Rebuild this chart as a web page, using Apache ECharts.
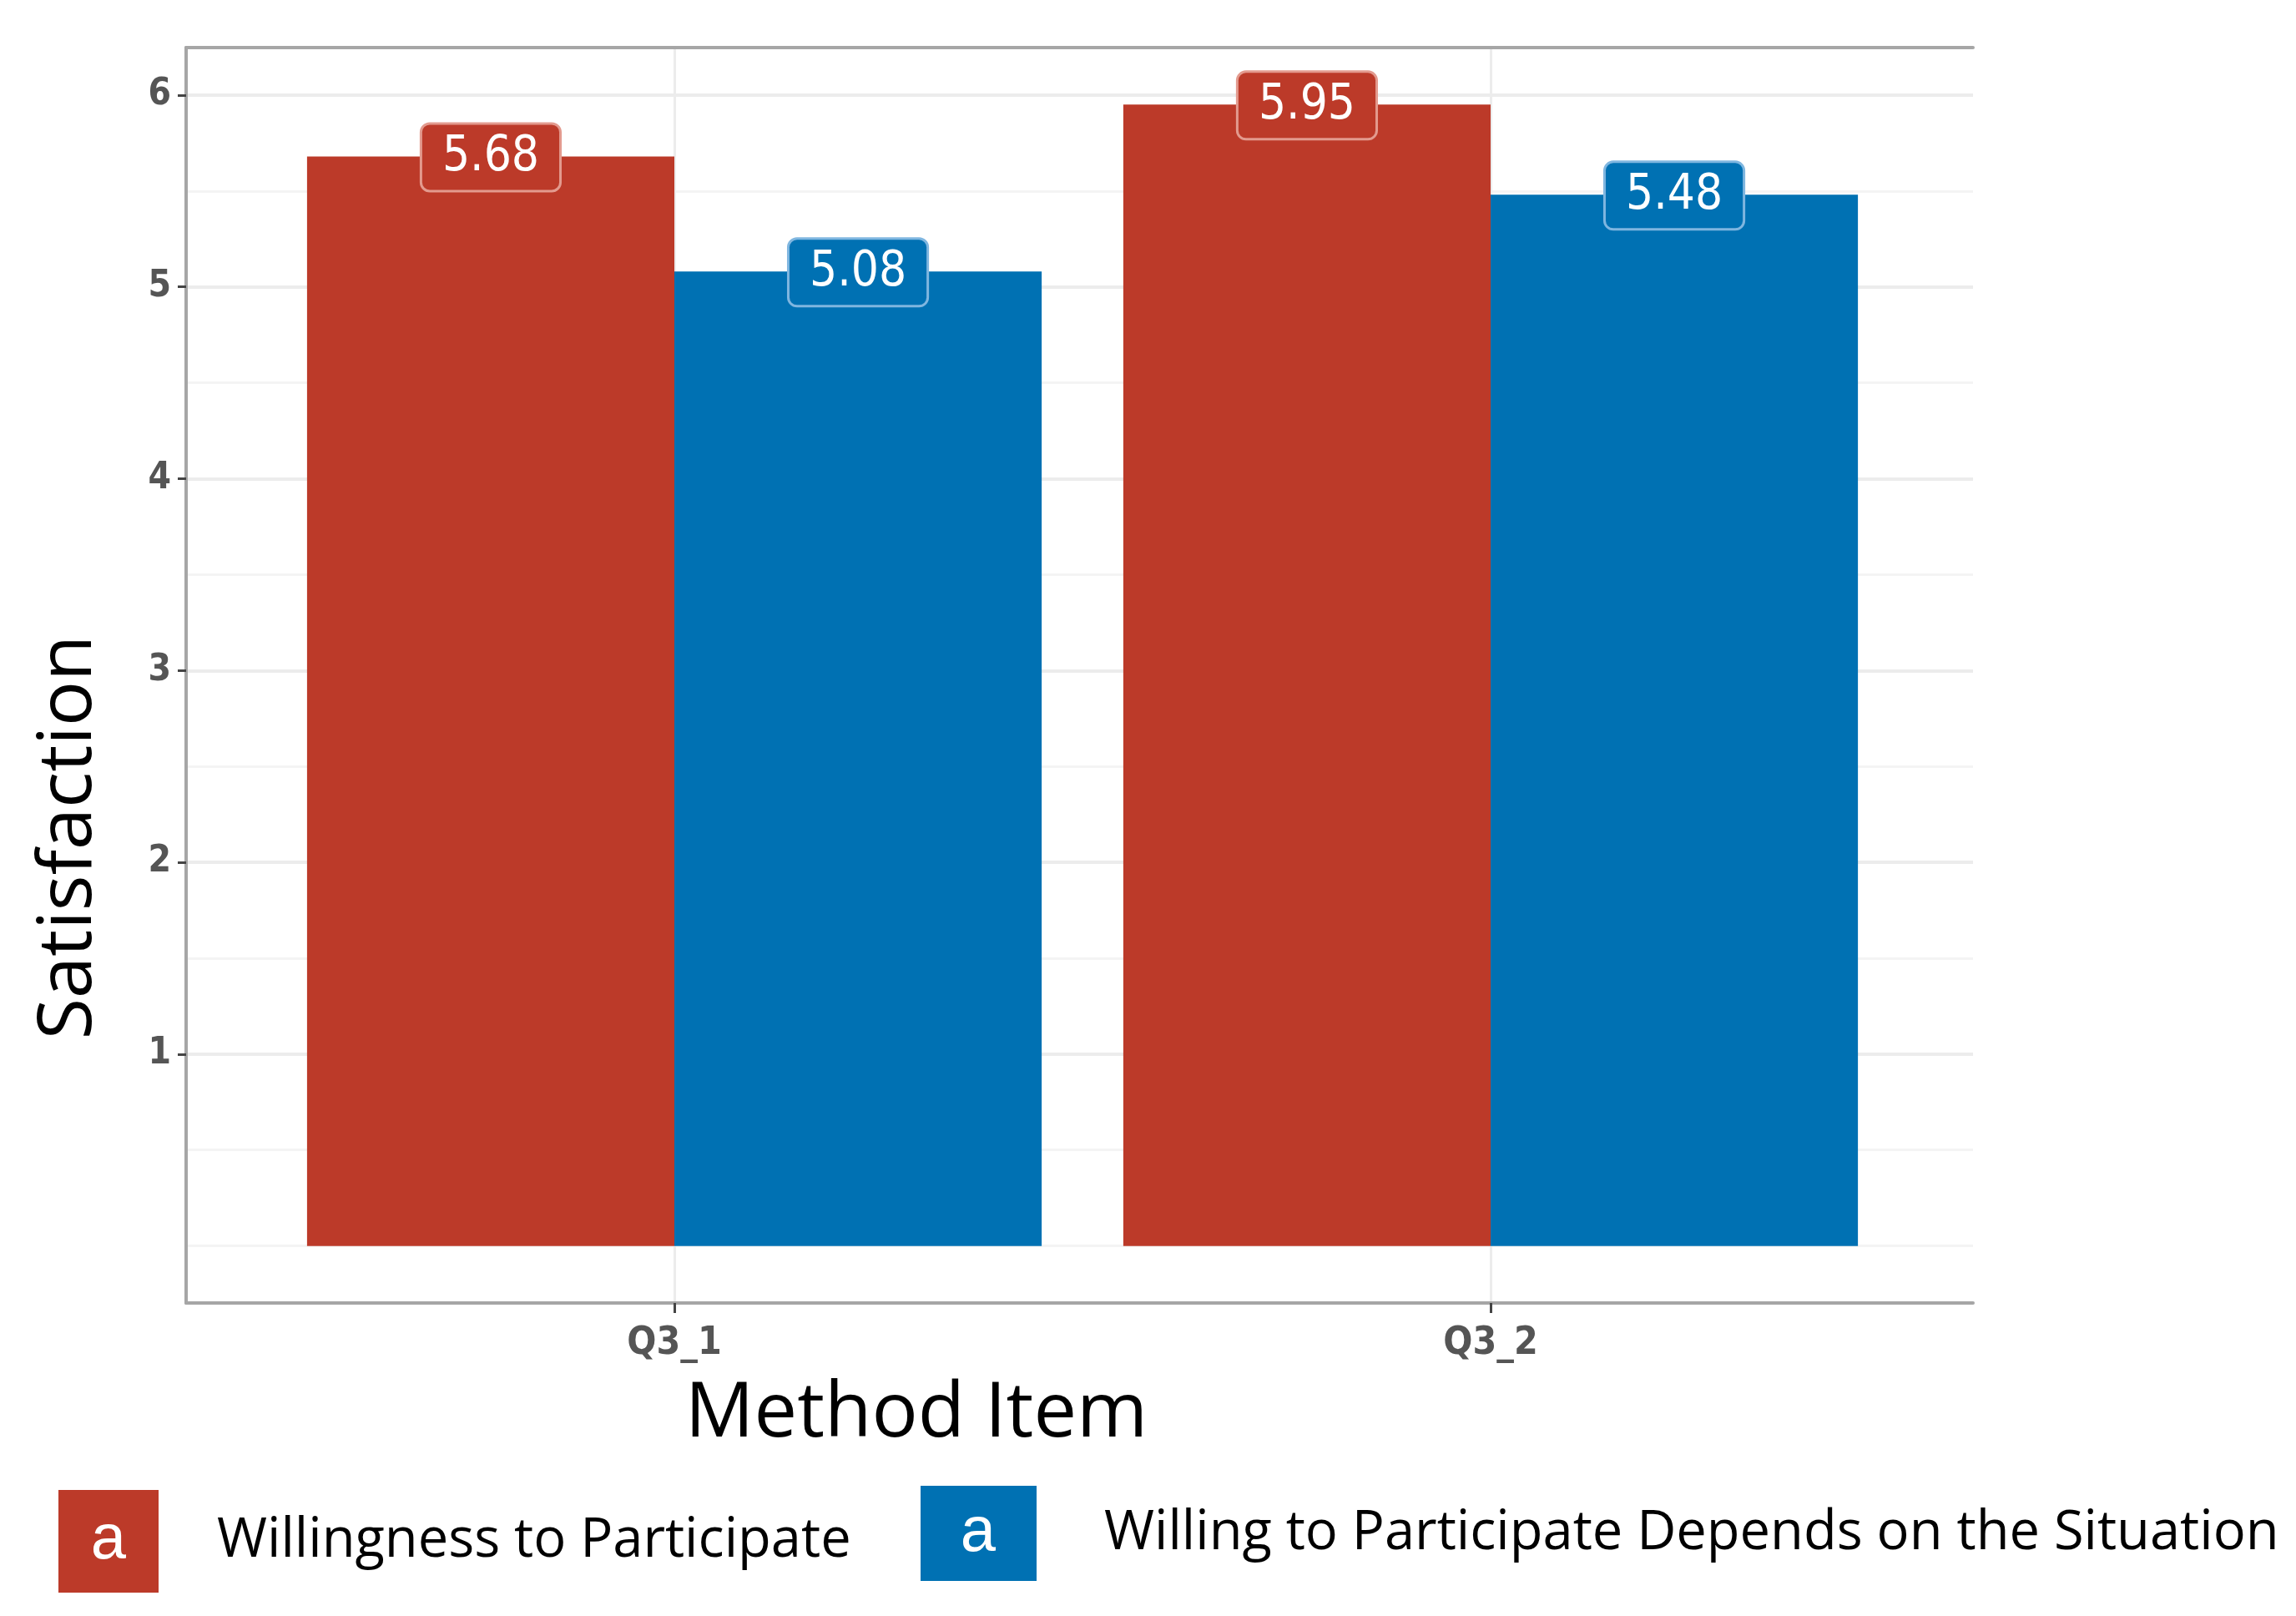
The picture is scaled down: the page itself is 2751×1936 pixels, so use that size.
<!DOCTYPE html>
<html>
<head>
<meta charset="utf-8">
<script src="https://cdn.jsdelivr.net/npm/echarts@6/dist/echarts.min.js"></script>
<style>
html,body{margin:0;padding:0;background:#fff;}
#chart{width:2751px;height:1936px;}
</style>
</head>
<body>
<div id="chart"></div>
<script>
const categories = ['Q3_1', 'Q3_2'];
const seriesNames = ['Willingness to Participate', 'Willing to Participate Depends on the Situation'];
const willingness = [5.68, 5.95];
const dependsOnSituation = [5.08, 5.48];
const yTickValues = [1, 2, 3, 4, 5, 6];
const yMinorValues = [0, 0.5, 1.5, 2.5, 3.5, 4.5, 5.5];
const yMin = -0.2975, yMax = 6.2475;
const xTitle = 'Method Item';
const yTitle = 'Satisfaction';
const keyLetter = 'a';

const RED = '#BC3A29', BLUE = '#0071B3';
const narrow = "'Liberation Sans Narrow', 'DejaVu Sans Condensed', 'Liberation Sans', sans-serif";
const TOP = 57, BOTTOM = 375;

function labelStyle(bg, border) {
  return {
    show: true, position: 'top', distance: -40,
    formatter: p => p.value.toFixed(2),
    color: '#fff', fontSize: 58, fontFamily: narrow,
    backgroundColor: bg, borderColor: border, borderWidth: 3, borderRadius: 9,
    padding: [10, 24, 8, 24], lineHeight: 60
  };
}

const chart = echarts.init(document.getElementById('chart'), null, {renderer: 'canvas'});
chart.setOption({
  backgroundColor: '#fff',
  animation: false,
  grid: [
    {left: 223, top: TOP, right: 387, bottom: BOTTOM, show: false},
    {left: 319, top: TOP, width: 1956, bottom: BOTTOM, show: false}
  ],
  xAxis: [
    {gridIndex: 0, type: 'value', min: 0, max: 1, position: 'bottom',
     axisLine: {show: true, onZero: false, lineStyle: {color: '#a6a6a6', width: 4}},
     axisTick: {show: false}, axisLabel: {show: false}, splitLine: {show: false}},
    {gridIndex: 0, type: 'value', min: 0, max: 1, position: 'top',
     axisLine: {show: true, onZero: false, lineStyle: {color: '#a6a6a6', width: 4}},
     axisTick: {show: false}, axisLabel: {show: false}, splitLine: {show: false}},
    {gridIndex: 1, type: 'category', data: categories, position: 'bottom',
     axisLine: {show: false, onZero: false},
     axisTick: {show: true, alignWithLabel: true, length: 12, inside: false, lineStyle: {color: '#444', width: 3}},
     axisLabel: {show: true, fontSize: 46, fontWeight: 'bold', color: '#555', fontFamily: narrow, margin: 26},
     splitLine: {show: true, alignWithLabel: true, lineStyle: {color: '#ececec', width: 3}}}
  ],
  yAxis: [
    {gridIndex: 0, type: 'value', min: yMin, max: yMax,
     axisLine: {show: true, onZero: false, lineStyle: {color: '#a6a6a6', width: 4}},
     axisTick: {show: true, length: 10, customValues: yTickValues, lineStyle: {color: '#444', width: 3}},
     axisLabel: {show: true, customValues: yTickValues, fontSize: 44, fontWeight: 'bold', color: '#555', fontFamily: narrow, margin: 18},
     splitLine: {show: true, lineStyle: {color: '#ececec', width: 4}}},
    {gridIndex: 0, type: 'value', min: yMin, max: yMax,
     axisLine: {show: false},
     axisTick: {show: false, customValues: yMinorValues},
     axisLabel: {show: false},
     splitLine: {show: true, lineStyle: {color: '#f4f4f4', width: 3}}},
    {gridIndex: 1, type: 'value', min: yMin, max: yMax, show: false, splitLine: {show: false}}
  ],
  legend: [
    {data: [seriesNames[0]], left: 70, top: 1785, padding: 0, itemWidth: 120, itemHeight: 123,
     icon: 'rect', selectedMode: false,
     textStyle: {fontSize: 65, color: '#000', fontFamily: "'Open Sans', 'Noto Sans', sans-serif", padding: [0, 0, 0, 65]}},
    {data: [seriesNames[1]], left: 1103, top: 1780, padding: 0, itemWidth: 139, itemHeight: 114,
     icon: 'rect', selectedMode: false,
     textStyle: {fontSize: 65, color: '#000', fontFamily: "'Open Sans', 'Noto Sans', sans-serif", padding: [0, 0, 0, 76]}}
  ],
  series: [
    {name: seriesNames[0], type: 'bar', xAxisIndex: 2, yAxisIndex: 2, data: willingness,
     barGap: '0%', barCategoryGap: '10%', itemStyle: {color: RED},
     label: labelStyle(RED, '#E39A8E'), z: 3},
    {name: seriesNames[1], type: 'bar', xAxisIndex: 2, yAxisIndex: 2, data: dependsOnSituation,
     barGap: '0%', barCategoryGap: '10%', itemStyle: {color: BLUE},
     label: labelStyle(BLUE, '#7FB6E0'), z: 3}
  ],
  graphic: [
    {type: 'text', x: 83, y: 1003, rotation: Math.PI / 2,
     style: {text: yTitle, fontSize: 90, fill: '#000', fontFamily: "'Open Sans', 'Noto Sans', sans-serif", align: 'center', verticalAlign: 'middle'}},
    {type: 'text', x: 1098, y: 1695,
     style: {text: xTitle, fontSize: 92, fill: '#000', fontFamily: "'Open Sans', 'Noto Sans', sans-serif", align: 'center', verticalAlign: 'middle'}},
    {type: 'text', x: 130, y: 1846, z: 100,
     style: {text: keyLetter, fontSize: 76, fill: '#fff', fontFamily: "'Liberation Sans', sans-serif", align: 'center', verticalAlign: 'middle'}},
    {type: 'text', x: 1172, y: 1837, z: 100,
     style: {text: keyLetter, fontSize: 76, fill: '#fff', fontFamily: "'Liberation Sans', sans-serif", align: 'center', verticalAlign: 'middle'}}
  ]
});
</script>
</body>
</html>
